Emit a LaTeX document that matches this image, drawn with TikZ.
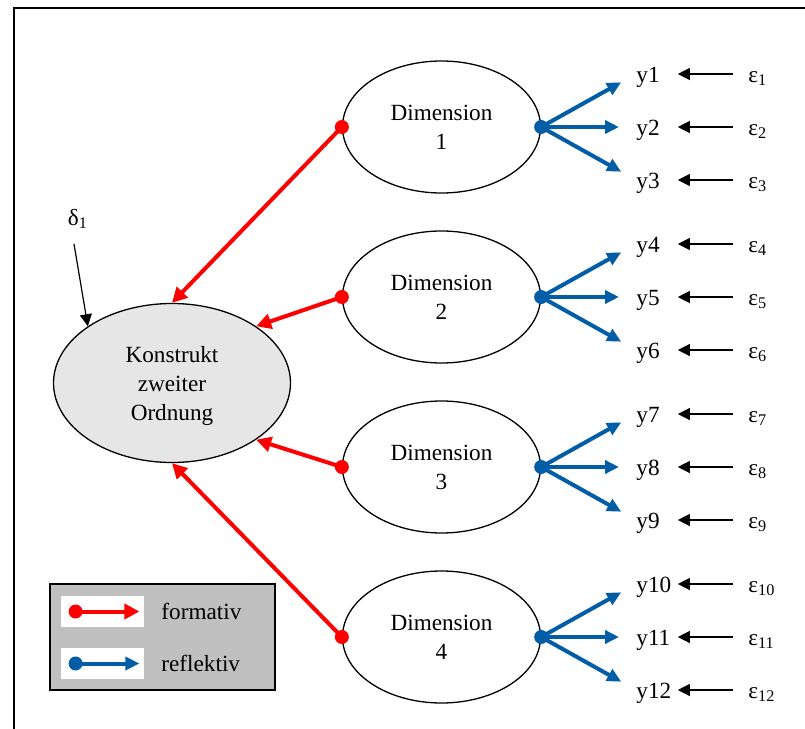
\documentclass[tikz,border=0pt]{standalone}
\usepackage{fontspec}
\setmainfont{Liberation Serif}
\usetikzlibrary{arrows.meta, positioning, calc, shapes.geometric}
\definecolor{fred}{HTML}{FF0000}
\definecolor{rblue}{HTML}{005DA6}
\definecolor{konfill}{HTML}{E6E6E6}
\definecolor{legfill}{HTML}{C0C0C0}

\begin{document}
\begin{tikzpicture}[
    x=0.5pt, y=-0.5pt,
    font=\fontsize{11.6}{14.5}\selectfont,
    latent/.style={
        ellipse, draw=black, line width=0.65pt, minimum width=99pt,
        minimum height=66pt, align=center, inner sep=0pt
    },
    construct/.style={
        latent, fill=konfill, minimum width=118.5pt, minimum height=79.5pt,
        text depth=0pt
    },
    ind/.style={anchor=west, inner sep=0pt, text width=20.5pt, align=left,
        text height=9.5pt, text depth=1.5pt},
    err/.style={anchor=west, inner xsep=7.5pt, inner ysep=0pt,
        text height=9.5pt, text depth=1.5pt},
    swatch/.style={rectangle, fill=white, minimum width=41.5pt, minimum height=15.5pt, inner sep=0pt},
    lbl/.style={anchor=west},
    formative/.style={-{Triangle[length=7.5pt, width=7.5pt]}, line width=2pt, fred},
    reflective/.style={-{Triangle[length=7pt, width=6.5pt]}, line width=2pt, rblue, shorten >=8.5pt},
    errarrow/.style={-{Triangle[length=6pt, width=6pt]}, line width=0.6pt, black},
]
\useasboundingbox (0,0) rectangle (805,729);

% Frame (cut off at the right and bottom)
\draw[line width=0.75pt] (14,740) -- (14,8) -- (820,8);

% Second order construct
\node[construct] (kon) at (172,383) {Konstrukt\\zweiter\\Ordnung};
\node (delta) at (78,219) {δ\textsubscript{1}};
\draw[errarrow] ([xshift=-2pt, yshift=-4pt]delta.south) -- (kon.146);

% Dimensions with their indicators and error terms
\foreach \i/\c in {1/127, 2/297, 3/467, 4/637} {
    \node[latent] (dim\i) at (441.5,\c) {Dimension\\\i};
    \foreach \k/\dy in {1/-53, 2/0, 3/53} {
        \pgfmathtruncatemacro{\n}{3*(\i-1)+\k}
        \node[ind] (y\n) at (636,{\c+(\dy)}) {y\n};
        \node[err] (eps\n) at (733,{\c+(\dy)}) {ε\textsubscript{\n}};
        \draw[errarrow] (eps\n) -- (y\n);
        \draw[reflective] (dim\i.east) -- (y\n.west);
    }
}

% Formative arrows: Dimension -> Konstrukt
\draw[formative] (dim1.west) -- (kon.north);
\draw[formative] (dim2.west) -- (kon.34);
\draw[formative] (dim3.west) -- (kon.-34);
\draw[formative] (dim4.west) -- (kon.south);

% Dots on the dimensions
\foreach \i in {1,...,4} {
    \fill[fred] (dim\i.west) circle (3.5pt);
    \fill[rblue] (dim\i.east) circle (3.5pt);
}

% Legend
\node[draw=black, fill=legfill, line width=0.75pt, minimum width=112.5pt,
      minimum height=53pt, inner sep=0pt] (legend) at (162.5,637) {};
\node[swatch] (swf) at (102.5,611.5) {};
\node[swatch] (swr) at (102.5,663.5) {};
\coordinate (fs) at ([xshift=7.5pt]swf.west);
\coordinate (fe) at ([xshift=-2.5pt]swf.east);
\coordinate (rs) at ([xshift=7.5pt]swr.west);
\coordinate (re) at ([xshift=-2.5pt]swr.east);
\draw[formative] (fs) -- (fe);
\draw[reflective, shorten >=0pt] (rs) -- (re);
\fill[fred] (fs) circle (3.5pt);
\fill[rblue] (rs) circle (3.5pt);
\node[lbl, right=5pt of swf] (lform) {formativ};
\node[lbl, right=5pt of swr] (lrefl) {reflektiv};

\end{tikzpicture}
\end{document}
